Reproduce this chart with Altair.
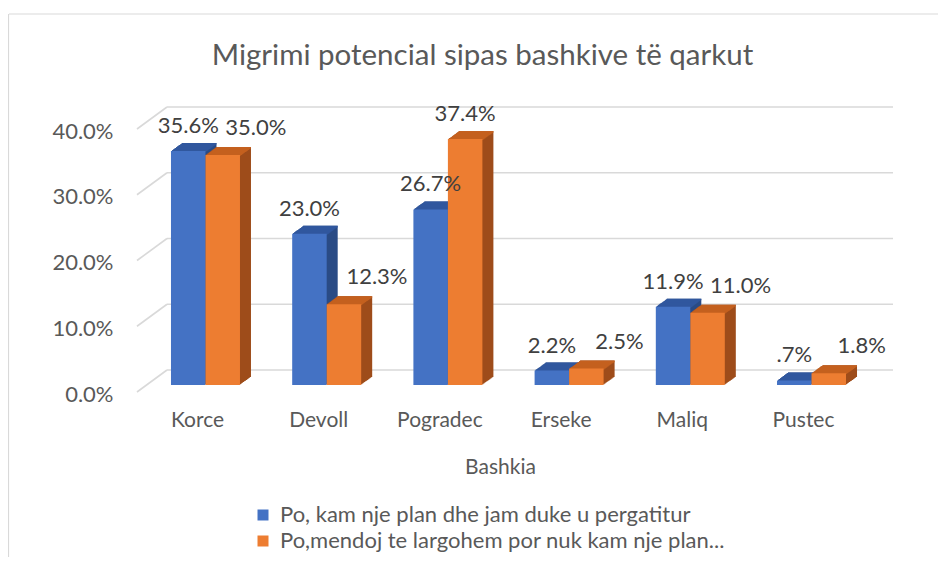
import altair as alt
import pandas as pd

# ---- data ----
categories = ["Korce", "Devoll", "Pogradec", "Erseke", "Maliq", "Pustec"]
series_names = [
    "Po, kam nje plan dhe jam duke u pergatitur",
    "Po,mendoj te largohem por nuk kam nje plan...",
]
plan_values = [35.6, 23.0, 26.7, 2.2, 11.9, 0.7]
noplan_values = [35.0, 12.3, 37.4, 2.5, 11.0, 1.8]
y_ticks = [0, 10, 20, 30, 40]

df = pd.DataFrame({"Bashkia": categories, "plan": plan_values, "noplan": noplan_values,
                   "s_plan": series_names[0], "s_noplan": series_names[1]})
ticks_df = pd.DataFrame({"t": y_ticks})
dummy = pd.DataFrame({"a": [0]})

# ---- style ----
FONT = "Lato"
TXT = "#595959"
LBL = "#404040"
GRID = "#D9D9D9"
BLUE, BLUE_TOP, BLUE_SIDE = "#4472C4", "#30579E", "#2A4B85"
ORANGE, ORANGE_TOP, ORANGE_SIDE = "#ED7D31", "#C4601F", "#9E4C1A"

W, H = 743, 263
BAR_W = 34.5
HALF = BAR_W / 2
DEPTH_X, DEPTH_Y = 11, 8
STEPS = 11

x_scale = alt.Scale(domain=categories, paddingInner=0, paddingOuter=0.065)
y_scale = alt.Scale(domain=[0, 40], nice=False, zero=True)

x_axis = alt.Axis(
    labelAngle=0, labelOffset=-8, labelPadding=35, labelBaseline="middle",
    domain=False, ticks=False, grid=False,
    labelFont=FONT, labelFontSize=21, labelColor=TXT,
    title="Bashkia", titleFont=FONT, titleFontSize=21, titleFontWeight="normal",
    titleColor=TXT, titleX=363, titleY=82, titleBaseline="middle", titleAnchor="middle",
)
y_axis = alt.Axis(
    values=y_ticks, labelExpr="format(datum.value / 100, '.1%')",
    labelOffset=9, labelPadding=24, domain=False, ticks=False, grid=False,
    labelFont=FONT, labelFontSize=22, labelColor=TXT, title=None,
)

def xenc():
    return alt.X("Bashkia:N", sort=categories, scale=x_scale, axis=x_axis, title="Bashkia")

def yenc(field):
    return alt.Y(f"{field}:Q", scale=y_scale, axis=y_axis, title=None)

color_scale = alt.Scale(domain=series_names, range=[BLUE, ORANGE])

layers = []

# chart frame (top and left border lines)
layers.append(alt.Chart(dummy).mark_rule(color=GRID, strokeWidth=1.2).encode(
    x=alt.value(-128), x2=alt.value(W + 60), y=alt.value(-108)))
layers.append(alt.Chart(dummy).mark_rule(color=GRID, strokeWidth=1.2).encode(
    x=alt.value(-128.5), y=alt.value(-108), y2=alt.value(H + 180)))

# back-wall gridlines
layers.append(alt.Chart(ticks_df).mark_rule(color=GRID, strokeWidth=1.6, yOffset=-15).encode(
    y=yenc("t"), x=alt.value(30), x2=alt.value(756)))
# side-wall diagonal gridlines
layers.append(alt.Chart(ticks_df).mark_rule(color=GRID, strokeWidth=1.6, yOffset=7, y2Offset=-15).encode(
    y=yenc("t"), y2=alt.Y2("t"), x=alt.value(0), x2=alt.value(30)))

def shadow_layers(field, off, side_col, top_col):
    out = []
    for k in range(1, STEPS + 1):
        dx = off + k * DEPTH_X / STEPS
        dy = -k * DEPTH_Y / STEPS
        out.append(alt.Chart(df).mark_bar(width=BAR_W, xOffset=dx, yOffset=dy, y2Offset=dy,
                                          color=side_col).encode(x=xenc(), y=yenc(field)))
    for k in range(1, STEPS + 1):
        dx = off + k * DEPTH_X / STEPS
        dy = -k * DEPTH_Y / STEPS
        out.append(alt.Chart(df).mark_bar(width=BAR_W, xOffset=dx, yOffset=dy, y2Offset=dy + 1.6,
                                          color=top_col).encode(
            x=xenc(), y=yenc(field), y2=alt.Y2(field)))
    return out

layers += shadow_layers("plan", -HALF, BLUE_SIDE, BLUE_TOP)
layers += shadow_layers("noplan", HALF, ORANGE_SIDE, ORANGE_TOP)

legend = alt.Legend(
    title=None, orient="none", legendX=115, legendY=382, direction="vertical",
    symbolType="square", symbolSize=121, symbolStrokeWidth=0, symbolOpacity=1,
    labelFont=FONT, labelFontSize=22, labelColor=TXT, labelLimit=0,
    rowPadding=4, padding=0, labelOffset=6,
)

# front faces
layers.append(alt.Chart(df).mark_bar(width=BAR_W, xOffset=-HALF).encode(
    x=xenc(), y=yenc("plan"),
    color=alt.Color("s_plan:N", scale=color_scale, legend=legend)))
layers.append(alt.Chart(df).mark_bar(width=BAR_W, xOffset=HALF).encode(
    x=xenc(), y=yenc("noplan"),
    color=alt.Color("s_noplan:N", scale=color_scale, legend=legend)))

# data labels
lbl_expr = ("datum.v < 1 ? substring(format(datum.v / 100, '.1%'), 1) : format(datum.v / 100, '.1%')")
layers.append(alt.Chart(df).transform_calculate(v="datum.plan").transform_calculate(lbl=lbl_expr)
              .mark_text(dx=-HALF, dy=-25, font=FONT, fontSize=22, color=LBL, baseline="middle")
              .encode(x=xenc(), y=yenc("plan"), text="lbl:N"))
layers.append(alt.Chart(df).transform_filter("datum.noplan - datum.plan > 5")
              .transform_calculate(v="datum.noplan").transform_calculate(lbl=lbl_expr)
              .mark_text(dx=HALF, dy=-25, font=FONT, fontSize=22, color=LBL, baseline="middle")
              .encode(x=xenc(), y=yenc("noplan"), text="lbl:N"))
layers.append(alt.Chart(df).transform_filter("datum.noplan - datum.plan <= 5")
              .transform_calculate(v="datum.noplan").transform_calculate(lbl=lbl_expr)
              .mark_text(dx=HALF + 33, dy=-27, font=FONT, fontSize=22, color=LBL, baseline="middle")
              .encode(x=xenc(), y=yenc("noplan"), text="lbl:N"))

chart = alt.layer(*layers).properties(
    width=W, height=H,
    title=alt.TitleParams(
        "Migrimi potencial sipas bashkive të qarkut",
        font=FONT, fontSize=29.5, fontWeight="normal", color=TXT,
        anchor="middle", frame="group", dx=-26, baseline="alphabetic", offset=-81,
    ),
    autosize=alt.AutoSizeParams(type="none"),
    padding={"left": 129, "top": 114, "right": 58, "bottom": 172},
    background="white",
).configure_view(stroke=None)

chart.save("out.html", embed_options={"renderer": "svg", "actions": False})
